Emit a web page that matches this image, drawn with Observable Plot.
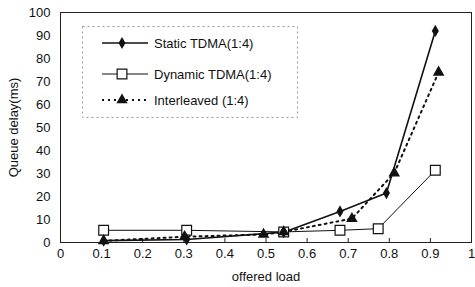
<!DOCTYPE html>
<html>
<head>
<meta charset="utf-8">
<script src="https://cdn.jsdelivr.net/npm/d3@7"></script>
<script src="https://cdn.jsdelivr.net/npm/@observablehq/plot@0.6"></script>
<style>
  body { margin: 0; background: #fff; }
  #wrap { position: relative; width: 475px; height: 287px; font-family: "Liberation Sans", Arial, sans-serif; }
  #legend { position: absolute; left: 82px; top: 26px; }
</style>
</head>
<body>
<div id="wrap"></div>
<script>
const xTicks = [0, 0.1, 0.2, 0.3, 0.4, 0.5, 0.6, 0.7, 0.8, 0.9, 1];
const yTicks = [0, 10, 20, 30, 40, 50, 60, 70, 80, 90, 100];

const seriesNames = ["Static TDMA(1:4)", "Dynamic TDMA(1:4)", "Interleaved (1:4)"];

const staticX = [0.105, 0.307, 0.543, 0.68, 0.793, 0.912];
const staticY = [0.8, 1.3, 4.5, 13.5, 21.5, 92];

const dynamicX = [0.105, 0.307, 0.543, 0.68, 0.773, 0.912];
const dynamicY = [5.3, 5.3, 4.6, 5.3, 6.0, 31.4];

const interX = [0.105, 0.302, 0.494, 0.543, 0.709, 0.812, 0.92];
const interY = [0.7, 2.5, 3.5, 4.6, 10.4, 30.2, 74];

const toRows = (xs, ys) => xs.map((x, i) => ({x, y: ys[i]}));
const sData = toRows(staticX, staticY);
const dData = toRows(dynamicX, dynamicY);
const iData = toRows(interX, interY);

const chart = Plot.plot({
  width: 475,
  height: 287,
  marginLeft: 60,
  marginRight: 4,
  marginTop: 12,
  marginBottom: 45,
  style: {fontFamily: "'Liberation Sans', Arial, sans-serif", fontSize: "13px", background: "#fff", color: "#111"},
  x: {domain: [0, 1]},
  y: {domain: [0, 100]},
  marks: [
    Plot.frame({stroke: "#222", strokeWidth: 1}),
    Plot.axisX({ticks: xTicks, tickSize: -4, text: null, label: null, stroke: "#222"}),
    Plot.axisX({ticks: xTicks, tickSize: 0, tickPadding: 6, tickFormat: d3.format("~g"),
      label: "offered load", labelAnchor: "center", labelArrow: "none", labelOffset: 38}),
    Plot.axisY({ticks: yTicks, tickSize: 0, tickPadding: 10,
      label: "Queue delay(ms)", labelAnchor: "center", labelArrow: "none", labelOffset: 52}),
    Plot.line(iData, {x: "x", y: "y", stroke: "#111", strokeWidth: 2, strokeDasharray: "2,4"}),
    Plot.line(dData, {x: "x", y: "y", stroke: "#111", strokeWidth: 1}),
    Plot.line(sData, {x: "x", y: "y", stroke: "#111", strokeWidth: 1.6}),
    Plot.dot(dData, {x: "x", y: "y", symbol: "square", r: 5.5, fill: "#fff", stroke: "#111", strokeWidth: 1.2}),
    Plot.dot(iData, {x: "x", y: "y", symbol: "triangle", r: 4.3, fill: "#111"}),
    Plot.dot(sData, {x: "x", y: "y", symbol: "diamond", r: 3.7, fill: "#111"})
  ]
});
document.getElementById("wrap").appendChild(chart);

// Legend overlay
const leg = d3.select("#wrap").append("svg")
  .attr("id", "legend")
  .attr("width", 216).attr("height", 92);
leg.append("rect").attr("x", 0.5).attr("y", 0.5).attr("width", 215).attr("height", 91)
  .attr("fill", "#fff").attr("stroke", "#999").attr("stroke-dasharray", "2,3");
const rowsY = [17, 48, 74];
const styles = [
  {dash: null, w: 1.6, sym: d3.symbolDiamond, size: 42, fill: "#111", stroke: "none"},
  {dash: null, w: 1, sym: d3.symbolSquare, size: 95, fill: "#fff", stroke: "#111"},
  {dash: "2,4", w: 2, sym: d3.symbolTriangle, size: 55, fill: "#111", stroke: "none"}
];
seriesNames.forEach((name, i) => {
  const s = styles[i];
  const g = leg.append("g").attr("transform", `translate(0,${rowsY[i]})`);
  g.append("line").attr("x1", 20).attr("x2", 66).attr("y1", 0).attr("y2", 0)
    .attr("stroke", "#111").attr("stroke-width", s.w).attr("stroke-dasharray", s.dash);
  g.append("path").attr("d", d3.symbol(s.sym, s.size)()).attr("transform", "translate(40,0)")
    .attr("fill", s.fill).attr("stroke", s.stroke).attr("stroke-width", 1.2);
  g.append("text").attr("x", 72).attr("y", 0).attr("dy", "0.35em")
    .attr("font-size", 13).attr("fill", "#111")
    .attr("font-family", "'Liberation Sans', Arial, sans-serif").text(name);
});
</script>
</body>
</html>
